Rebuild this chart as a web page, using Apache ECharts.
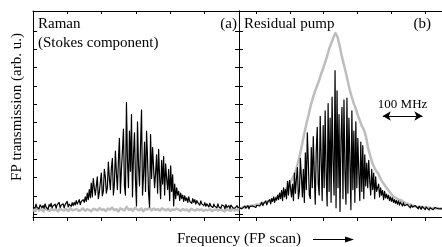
<!DOCTYPE html>
<html>
<head>
<meta charset="utf-8">
<script src="https://cdn.jsdelivr.net/npm/echarts@6/dist/echarts.min.js"></script>
<style>
  html, body { margin: 0; padding: 0; background: #fff; }
  #chart { width: 442px; height: 247px; }
</style>
</head>
<body>
<div id="chart"></div>
<script>
// scan axis of each panel spans 0..6 (one unit per tick), samples are evenly spaced
const SPAN = 6;
const yTicks = [0.16, 1.16, 2.16, 3.16, 4.16, 5.16, 6.16, 7.16, 8.16, 9.16, 10.16];
const xTicksLeft = [0, 1, 2, 3, 4, 5, 6];
const xTicksRight = [0.5, 1.5, 2.5, 3.5, 4.5, 5.5];

// (a) Raman, Stokes component (black trace)
const ramanStokes = [
  0.55,0.62,0.48,0.70,0.52,0.60,0.45,0.66,0.58,0.50,
  0.63,0.47,0.72,0.55,0.60,0.42,0.68,0.57,0.75,0.50,
  0.62,0.55,0.70,0.48,0.66,0.58,0.80,0.52,0.64,0.60,
  0.72,0.50,0.68,0.62,0.85,0.55,0.70,0.64,0.58,0.78,
  0.62,0.80,0.66,0.90,0.70,0.75,0.95,0.68,0.85,0.78,
  0.95,0.80,1.10,0.85,1.30,0.95,1.50,1.05,1.85,1.10,
  2.10,1.60,1.20,1.70,2.20,1.00,1.35,1.90,2.40,1.15,
  1.40,2.60,2.20,1.30,1.60,3.00,2.10,1.50,2.70,3.20,
  1.20,1.80,3.60,2.40,1.50,3.10,4.30,1.30,2.60,3.60,
  4.80,1.70,1.20,6.25,3.10,1.60,4.70,2.50,5.60,1.10,
  3.40,4.60,2.00,0.60,5.20,2.80,1.70,3.90,5.85,1.20,
  2.30,4.10,1.40,4.70,3.20,1.30,0.55,4.50,2.10,3.80,
  3.90,1.60,2.40,3.40,1.30,3.70,2.20,1.00,3.10,1.80,
  3.30,1.20,2.90,2.10,1.50,2.60,0.90,2.80,1.40,2.30,
  0.60,1.80,1.00,1.60,1.20,1.40,0.90,1.30,1.00,1.20,
  0.85,1.15,0.90,1.05,0.80,1.10,0.85,0.95,0.75,1.00,
  0.80,0.95,0.70,0.90,0.78,0.85,0.65,0.88,0.72,0.80,
  0.62,0.78,0.58,0.72,0.66,0.55,0.75,0.60,0.68,0.52,
  0.70,0.58,0.64,0.50,0.72,0.55,0.62,0.48,0.66,0.56,
  0.60,0.45,0.68,0.52,0.58,0.62,0.46,0.65,0.55,0.50,
  0.60,0.48,0.56,0.62,0.50,0.55
];

// (a) grey trace (background)
const ramanGrey = [
  0.40,0.32,0.45,0.36,0.42,0.30,0.47,0.38,0.34,0.44,
  0.37,0.41,0.31,0.46,0.39,0.35,0.43,0.33,0.48,0.36,
  0.40,0.44,0.34,0.38,0.47,0.35,0.42,0.39,0.31,0.45,
  0.41,0.36,0.49,0.38,0.43,0.33,0.46,0.40,0.52,0.37,
  0.44,0.30,0.48,0.41,0.36,0.55,0.39,0.45,0.34,0.50,
  0.42,0.37,0.47,0.32,0.44,0.40,0.51,0.36,0.46,0.39,
  0.43,0.35,0.48,0.41,0.37,0.45,0.33,0.42,0.38,0.46,
  0.40,0.34,0.44,0.37,0.41,0.31,0.45,0.39,0.35,0.43,
  0.38,0.42,0.33,0.40,0.36,0.44,0.32,0.39,0.41,0.35,
  0.43,0.37,0.30,0.42,0.38,0.34,0.45,0.36,0.40,0.33
];

// (b) residual pump, black trace
const pumpResidual = [
  0.50,0.42,0.58,0.46,0.55,0.40,0.60,0.48,0.52,0.62,
  0.45,0.58,0.66,0.50,0.60,0.55,0.70,0.52,0.64,0.58,
  0.72,0.60,0.68,0.80,0.62,0.75,0.70,0.88,0.66,0.82,
  0.78,0.95,0.72,1.00,0.85,1.10,0.80,1.05,0.92,1.20,
  0.95,1.30,1.00,1.45,0.90,1.60,1.10,1.50,1.00,1.95,
  1.20,2.00,1.60,1.10,1.80,0.90,2.40,1.30,2.10,2.70,
  1.00,1.40,3.20,2.20,1.10,2.60,0.80,3.50,1.50,4.60,
  3.00,1.20,1.00,3.80,1.60,4.40,2.40,0.70,3.60,4.90,
  1.80,1.20,5.50,3.20,0.90,5.00,1.60,5.80,2.40,0.60,
  6.20,1.40,5.40,0.80,6.55,3.00,1.20,8.00,0.50,6.90,
  1.60,5.60,0.30,4.20,6.00,1.00,6.40,2.50,0.70,6.50,
  1.30,5.40,3.10,0.40,5.80,1.50,4.70,0.80,5.20,1.60,
  4.30,2.40,0.90,4.10,1.40,3.90,1.00,3.40,1.70,2.95,
  1.60,3.10,2.00,1.20,2.60,1.50,2.40,1.00,2.20,1.40,
  1.30,1.80,1.10,1.60,1.20,1.45,0.95,1.40,1.05,1.25,
  1.00,1.20,0.90,1.10,0.85,1.05,0.80,0.95,0.75,0.90,
  0.70,0.88,0.65,0.82,0.72,0.60,0.78,0.62,0.70,0.55,
  0.68,0.58,0.64,0.50,0.66,0.54,0.60,0.48,0.62,0.52,
  0.56,0.45,0.60,0.50,0.42,0.58,0.48,0.54,0.40,0.55,
  0.46,0.52,0.38,0.50,0.44,0.56,0.40,0.48,0.52,0.42,
  0.50,0.45,0.38,0.52,0.44,0.48
];

// (b) pump, grey trace
const pumpGrey = [
  0.50,0.47,0.55,0.52,0.60,0.56,0.63,0.60,0.66,0.68,
  0.70,0.74,0.78,0.80,0.86,0.88,0.95,0.98,1.05,1.12,
  1.22,1.32,1.42,1.55,1.70,1.90,2.10,2.30,2.65,3.05,
  3.55,4.10,4.65,5.15,5.60,6.10,6.50,6.85,7.15,7.45,
  7.80,8.10,8.45,8.80,9.20,9.50,9.80,10.05,9.85,9.40,
  8.85,8.40,7.95,7.45,6.95,6.55,6.20,5.90,5.55,5.25,
  4.95,4.75,4.35,3.75,3.35,2.95,2.70,2.50,2.35,2.10,
  1.90,1.75,1.58,1.45,1.30,1.15,1.08,1.00,0.95,0.92,
  0.85,0.78,0.72,0.70,0.66,0.60,0.58,0.55,0.53,0.56,
  0.50,0.53,0.48,0.52,0.47,0.50,0.46,0.50,0.45,0.48
];

// 100 MHz scale bar in panel (b), axis units
const scaleBar = { from: 4.25, to: 5.42, level: 5.52 };

const toXY = arr => arr.map((v, i) => [i * SPAN / (arr.length - 1), v]);

const FONT = "'Liberation Serif', 'DejaVu Serif', serif";
const black = '#000';
const grey = '#bdbdbd';

function xAx (grid, pos, ticks, inside) {
  return {
    gridIndex: grid, type: 'value', position: pos, min: 0, max: SPAN,
    axisLine: { show: true, onZero: false, lineStyle: { color: black, width: 1 } },
    axisTick: { show: true, inside: inside, length: inside ? 3 : 4, customValues: ticks,
      lineStyle: { color: black, width: 1 } },
    axisLabel: { show: false },
    splitLine: { show: false }
  };
}
function yAx (grid, pos) {
  return {
    gridIndex: grid, type: 'value', position: pos, min: 0, max: 11.26,
    axisLine: { show: true, onZero: false, lineStyle: { color: black, width: 1 } },
    axisTick: { show: true, inside: true, length: 4, customValues: yTicks,
      lineStyle: { color: black, width: 1 } },
    axisLabel: { show: false },
    splitLine: { show: false }
  };
}
function trace (name, data, xi, yi, color, width, z) {
  return {
    name: name, type: 'line', xAxisIndex: xi, yAxisIndex: yi, data: toXY(data),
    showSymbol: false, symbol: 'none', clip: true, z: z,
    lineStyle: { color: color, width: width, join: 'round' }
  };
}

const chart = echarts.init(document.getElementById('chart'), null, { renderer: 'canvas' });
const txt = (text, x, y, align, size) => ({
  type: 'text', x: x, y: y, silent: true,
  style: { text: text, fill: black, font: (size || 15) + 'px ' + FONT, align: align || 'left', verticalAlign: 'middle' }
});

chart.setOption({
  animation: false,
  backgroundColor: '#fff',
  grid: [
    { left: 33, right: 203, top: 11, bottom: 30 },
    { left: 239, right: -3, top: 11, bottom: 30 }
  ],
  xAxis: [
    xAx(0, 'bottom', xTicksLeft, false),
    xAx(0, 'top', xTicksLeft, true),
    xAx(1, 'bottom', xTicksRight, false),
    xAx(1, 'top', xTicksRight, true)
  ],
  yAxis: [
    yAx(0, 'left'),
    yAx(0, 'right'),
    yAx(1, 'left')
  ],
  series: [
    trace('Raman background', ramanGrey, 0, 0, grey, 2.5, 2),
    trace('Raman', ramanStokes, 0, 0, black, 1.2, 3),
    trace('Pump', pumpGrey, 2, 2, grey, 2.5, 2),
    Object.assign(trace('Residual pump', pumpResidual, 2, 2, black, 1.2, 3), {
      markLine: {
        silent: true, symbol: ['arrow', 'arrow'], symbolSize: [7, 8],
        lineStyle: { color: black, width: 1, type: 'solid' },
        label: { show: true, formatter: '100 MHz', position: 'insideMiddleTop', distance: 5,
          color: black, fontFamily: FONT, fontSize: 13 },
        data: [[{ coord: [scaleBar.from, scaleBar.level] }, { coord: [scaleBar.to, scaleBar.level] }]]
      }
    })
  ],
  graphic: [
    txt('Raman', 38, 24),
    txt('(Stokes component)', 38, 43),
    txt('(a)', 237, 24, 'right'),
    txt('Residual pump', 244, 24),
    txt('(b)', 431, 24, 'right'),
    txt('Frequency (FP scan)', 239, 239, 'center'),
    Object.assign(txt('FP transmission (arb. u.)', 17, 107, 'center'), { rotation: Math.PI / 2 }),
    { type: 'line', silent: true, shape: { x1: 313, y1: 239.5, x2: 348, y2: 239.5 },
      style: { stroke: black, lineWidth: 1 } },
    { type: 'polygon', silent: true, shape: { points: [[354, 239.5], [345, 236.5], [345, 242.5]] },
      style: { fill: black } }
  ]
});
</script>
</body>
</html>
